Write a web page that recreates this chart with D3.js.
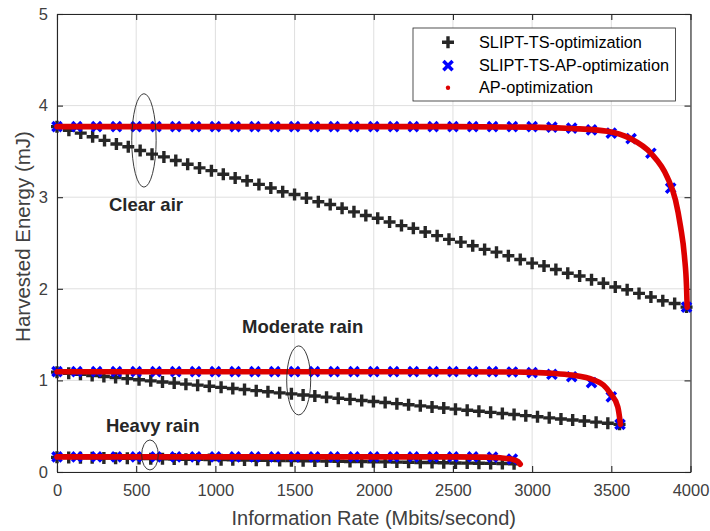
<!DOCTYPE html>
<html><head><meta charset="utf-8">
<script src="https://cdn.jsdelivr.net/npm/d3@7"></script>
<style>body{margin:0;background:#fff}svg{display:block}</style>
</head><body><svg id="c" width="710" height="531"></svg>
<script>
// ---- data ----
const xTicks = [0,500,1000,1500,2000,2500,3000,3500,4000];
const yTicks = [0,1,2,3,4,5];
const legendLabels = ["SLIPT-TS-optimization","SLIPT-TS-AP-optimization","AP-optimization"];
const annotationLabels = ["Clear air","Moderate rain","Heavy rain"];

// SLIPT-TS-optimization (black +)
const tsClearRate = [0,75,150,225,300,375,450,525,600,675,750,825,900,975,1050,1125,1200,1275,1350,1425,1500,1575,1650,1725,1800,1875,1950,2025,2100,2175,2250,2325,2400,2475,2550,2625,2700,2775,2850,2925,3000,3075,3150,3225,3300,3375,3450,3525,3600,3675,3750,3825,3900,3975];
const tsClearEnergy = [3.77,3.73,3.70,3.66,3.62,3.58,3.55,3.51,3.47,3.44,3.40,3.36,3.32,3.29,3.25,3.21,3.18,3.14,3.10,3.06,3.03,2.99,2.95,2.92,2.88,2.84,2.80,2.77,2.73,2.69,2.66,2.62,2.58,2.54,2.51,2.47,2.43,2.40,2.36,2.32,2.28,2.25,2.21,2.17,2.14,2.10,2.06,2.02,1.99,1.95,1.91,1.87,1.84,1.80];
const tsModerateRate = [0,74,148,222,296,370,444,518,592,666,740,814,888,962,1036,1110,1184,1258,1332,1406,1480,1554,1628,1702,1776,1850,1924,1998,2072,2146,2220,2294,2368,2442,2516,2590,2664,2738,2812,2886,2960,3034,3108,3182,3256,3330,3404,3478,3552];
const tsModerateEnergy = [1.090,1.078,1.066,1.054,1.043,1.031,1.019,1.007,0.995,0.983,0.971,0.959,0.948,0.936,0.924,0.912,0.900,0.888,0.876,0.864,0.853,0.841,0.829,0.817,0.805,0.793,0.781,0.769,0.758,0.746,0.734,0.722,0.710,0.698,0.686,0.674,0.663,0.651,0.639,0.627,0.615,0.603,0.591,0.579,0.568,0.556,0.544,0.532,0.520];
const tsHeavyRate = [0,74,148,222,296,370,444,518,592,666,740,814,888,962,1036,1110,1184,1258,1332,1406,1480,1554,1628,1702,1776,1850,1924,1998,2072,2146,2220,2294,2368,2442,2516,2590,2664,2738,2812,2886];
const tsHeavyEnergy = [0.160,0.158,0.156,0.155,0.153,0.151,0.149,0.147,0.146,0.144,0.142,0.140,0.138,0.137,0.135,0.133,0.131,0.129,0.128,0.126,0.124,0.122,0.121,0.119,0.117,0.115,0.113,0.112,0.110,0.108,0.106,0.104,0.103,0.101,0.099,0.097,0.095,0.094,0.092,0.090];

// SLIPT-TS-AP-optimization (blue x)
const tsapClearRate = [0,125,250,375,500,625,750,875,1000,1125,1250,1375,1500,1625,1750,1875,2000,2125,2250,2375,2500,2625,2750,2875,3000,3125,3250,3375,3500,3625,3750,3875,3975];
const tsapClearEnergy = [3.77,3.77,3.77,3.77,3.77,3.77,3.77,3.77,3.77,3.77,3.77,3.77,3.77,3.77,3.77,3.77,3.77,3.77,3.77,3.77,3.77,3.77,3.77,3.77,3.77,3.765,3.755,3.735,3.70,3.64,3.48,3.10,1.80];
const tsapModerateRate = [0,125,250,375,500,625,750,875,1000,1125,1250,1375,1500,1625,1750,1875,2000,2125,2250,2375,2500,2625,2750,2875,3000,3125,3250,3375,3500,3555];
const tsapModerateEnergy = [1.095,1.095,1.095,1.095,1.095,1.095,1.095,1.095,1.095,1.095,1.095,1.095,1.095,1.095,1.095,1.095,1.095,1.095,1.095,1.095,1.095,1.095,1.095,1.092,1.085,1.067,1.040,0.975,0.820,0.520];
const tsapHeavyRate = [0,125,250,375,500,625,750,875,1000,1125,1250,1375,1500,1625,1750,1875,2000,2125,2250,2375,2500,2625,2750,2875];
const tsapHeavyEnergy = [0.165,0.165,0.165,0.165,0.165,0.165,0.165,0.165,0.165,0.165,0.165,0.165,0.165,0.165,0.165,0.165,0.165,0.165,0.165,0.165,0.165,0.166,0.162,0.140];

// AP-optimization (red dots, dense)
const apClearRate = [0,500,1000,1500,2000,2500,3000,3250,3475,3620,3750,3853,3905,3937,3962,3975,3979];
const apClearEnergy = [3.77,3.77,3.77,3.77,3.77,3.77,3.765,3.75,3.72,3.64,3.48,3.22,2.97,2.68,2.35,2.02,1.80];
const apModerateRate = [0,1000,2000,2500,2900,3000,3125,3250,3389,3450,3494,3541,3558];
const apModerateEnergy = [1.095,1.095,1.095,1.095,1.092,1.088,1.078,1.058,1.004,0.950,0.860,0.710,0.520];
const apHeavyRate = [0,1000,2000,2500,2700,2800,2875,2910,2925];
const apHeavyEnergy = [0.165,0.165,0.165,0.165,0.162,0.155,0.138,0.115,0.085];

// annotation anchors (rate, energy) and ellipse centres
const annotationRate = [328,1168,309];
const annotationEnergy = [2.85,1.517,0.437];
const ellipseRate = [549,1526,587];
const ellipseEnergy = [3.62,1.0,0.186];

// ---- drawing ----
const FONT = "'Liberation Sans', Arial, Helvetica, sans-serif";
const AXC = "#262626", TXC = "#404040";
const svg = d3.select("#c");
const X0 = 57, X1 = 690.5, Y0 = 472, Y1 = 14;
const x = d3.scaleLinear().domain([0,4000]).range([X0,X1]);
const y = d3.scaleLinear().domain([0,5]).range([Y0,Y1]);

// grid
const grid = svg.append("g");
grid.selectAll(".gx").data(xTicks).join("line")
  .attr("x1",d=>x(d)).attr("x2",d=>x(d)).attr("y1",Y0).attr("y2",Y1)
  .attr("stroke","#dfdfdf").attr("stroke-width",1);
grid.selectAll(".gy").data(yTicks).join("line")
  .attr("y1",d=>y(d)).attr("y2",d=>y(d)).attr("x1",X0).attr("x2",X1)
  .attr("stroke","#dfdfdf").attr("stroke-width",1);

function styleAxis(g, labels){
  g.select(".domain").attr("stroke",AXC).attr("stroke-width",1.1);
  g.selectAll(".tick line").attr("stroke",AXC).attr("stroke-width",1.1);
  g.selectAll(".tick text").attr("fill",TXC).style("font-family",FONT).style("font-size","16.5px");
  if(!labels) g.selectAll(".tick text").remove();
}
const gxB = svg.append("g").attr("transform",`translate(0,${Y0})`)
  .call(d3.axisBottom(x).tickValues(xTicks).tickFormat(d3.format("d")).tickSize(-6).tickSizeOuter(0).tickPadding(12));
styleAxis(gxB,true);
const gxT = svg.append("g").attr("transform",`translate(0,${Y1})`)
  .call(d3.axisTop(x).tickValues(xTicks).tickSize(-6).tickSizeOuter(0));
styleAxis(gxT,false);
const gyL = svg.append("g").attr("transform",`translate(${X0},0)`)
  .call(d3.axisLeft(y).tickValues(yTicks).tickFormat(d3.format("d")).tickSize(-6).tickSizeOuter(0).tickPadding(9));
styleAxis(gyL,true);
const gyR = svg.append("g").attr("transform",`translate(${X1},0)`)
  .call(d3.axisRight(y).tickValues(yTicks).tickSize(-6).tickSizeOuter(0));
styleAxis(gyR,false);

// axis labels
svg.append("text").attr("x",(X0+X1)/2).attr("y",525).attr("text-anchor","middle")
  .attr("fill",TXC).style("font-family",FONT).style("font-size","20px")
  .text("Information Rate (Mbits/second)");
svg.append("text").attr("transform","translate(29.5,236.5) rotate(-90)").attr("text-anchor","middle")
  .attr("fill",TXC).style("font-family",FONT).style("font-size","20.5px")
  .text("Harvested Energy (mJ)");

const plusPath = "M-6,0H6M0,-6V6";
const crossPath = "M-4.6,-4.6L4.6,4.6M-4.6,4.6L4.6,-4.6";
const zip = (a,b)=>a.map((v,i)=>[v,b[i]]);

const tsSets = [[tsClearRate,tsClearEnergy],[tsModerateRate,tsModerateEnergy],[tsHeavyRate,tsHeavyEnergy]];
const tsapSets = [[tsapClearRate,tsapClearEnergy],[tsapModerateRate,tsapModerateEnergy],[tsapHeavyRate,tsapHeavyEnergy]];
const apSets = [[apClearRate,apClearEnergy],[apModerateRate,apModerateEnergy],[apHeavyRate,apHeavyEnergy]];

const marks = svg.append("g");
tsSets.forEach(([r,e])=>{
  marks.append("g").selectAll("path").data(zip(r,e)).join("path")
    .attr("d",plusPath).attr("transform",d=>`translate(${x(d[0])},${y(d[1])})`)
    .attr("stroke",AXC).attr("stroke-width",3.4).attr("fill","none");
});
tsapSets.forEach(([r,e])=>{
  marks.append("g").selectAll("path").data(zip(r,e)).join("path")
    .attr("d",crossPath).attr("transform",d=>`translate(${x(d[0])},${y(d[1])})`)
    .attr("stroke","#0000ff").attr("stroke-width",3.5).attr("fill","none");
});
const line = d3.line().x(d=>x(d[0])).y(d=>y(d[1])).curve(d3.curveMonotoneX);
apSets.forEach(([r,e])=>{
  marks.append("path").attr("d",line(zip(r,e))).attr("fill","none")
    .attr("stroke","#dd0000").attr("stroke-width",5.6)
    .attr("stroke-linecap","round").attr("stroke-linejoin","round");
});

// ellipses and annotations
const ellipseRx = [12.2,12,8.3], ellipseRy = [46.7,34.5,15];
ellipseRate.forEach((r,i)=>{
  svg.append("ellipse").attr("cx",x(r)).attr("cy",y(ellipseEnergy[i])).attr("rx",ellipseRx[i]).attr("ry",ellipseRy[i])
    .attr("fill","none").attr("stroke",AXC).attr("stroke-width",0.9);
});
annotationLabels.forEach((t,i)=>{
  svg.append("text").attr("x",x(annotationRate[i])).attr("y",y(annotationEnergy[i])).attr("text-anchor","start")
    .attr("fill",AXC).style("font-family",FONT).style("font-size","18.5px").style("font-weight","bold").text(t);
});

// legend
const lg = svg.append("g");
lg.append("rect").attr("x",413).attr("y",28).attr("width",262.5).attr("height",73)
  .attr("fill","#fff").attr("stroke",AXC).attr("stroke-width",0.8);
const ly = [42.3,65.7,87.7];
lg.append("path").attr("d",plusPath).attr("transform",`translate(448,${ly[0]})`)
  .attr("stroke",AXC).attr("stroke-width",3.4).attr("fill","none");
lg.append("path").attr("d",crossPath).attr("transform",`translate(448,${ly[1]})`)
  .attr("stroke","#0000ff").attr("stroke-width",3.5).attr("fill","none");
lg.append("circle").attr("cx",448).attr("cy",ly[2]).attr("r",2.2).attr("fill","#dd0000");
legendLabels.forEach((t,i)=>{
  lg.append("text").attr("x",479).attr("y",ly[i]).attr("dy","0.35em")
    .attr("fill","#000").style("font-family",FONT).style("font-size","16.3px").text(t);
});
</script></body></html>
